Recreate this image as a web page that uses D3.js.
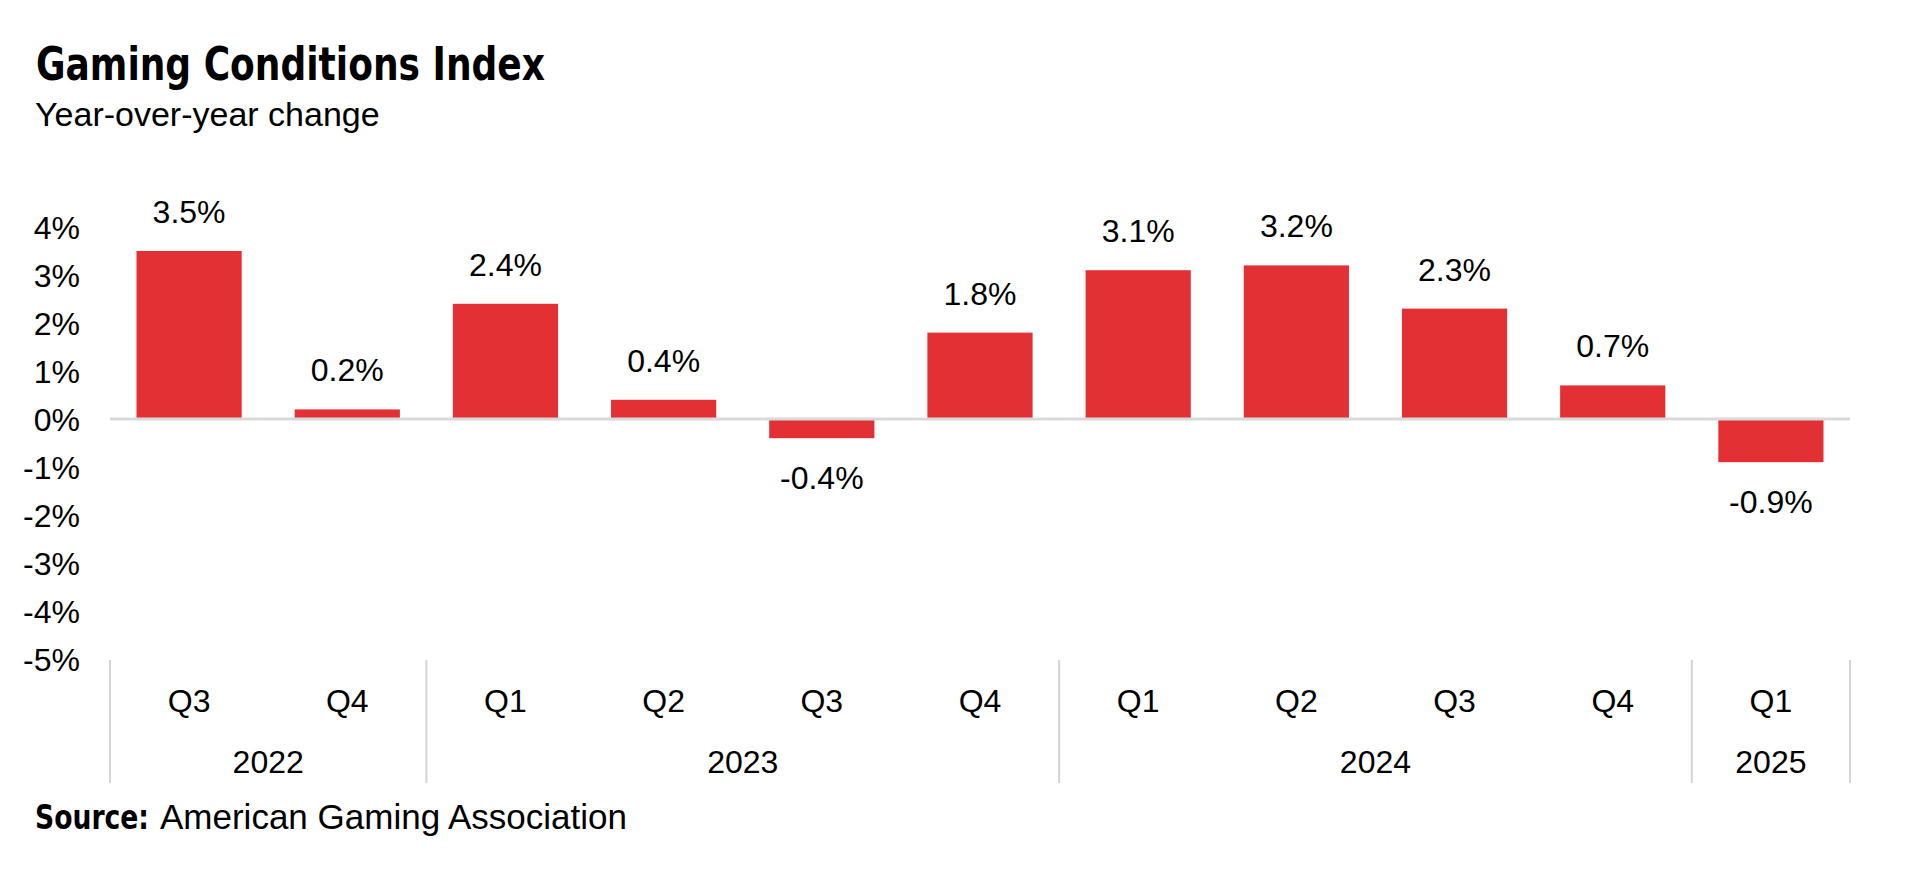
<!DOCTYPE html>
<html>
<head>
<meta charset="utf-8">
<script src="https://cdn.jsdelivr.net/npm/d3@7"></script>
<style>
  body { margin: 0; background: #fff; }
  text { font-family: "Liberation Sans", Arial, sans-serif; fill: #000; }
  .bold { font-family: "Liberation Sans Narrow", "DejaVu Sans Condensed", sans-serif; font-weight: bold; }
</style>
</head>
<body>
<svg id="chart"></svg>
<script>
// chart data
const quarters = ["Q3", "Q4", "Q1", "Q2", "Q3", "Q4", "Q1", "Q2", "Q3", "Q4", "Q1"];
const years = ["2022", "2022", "2023", "2023", "2023", "2023", "2024", "2024", "2024", "2024", "2025"];
const values = [3.5, 0.2, 2.4, 0.4, -0.4, 1.8, 3.1, 3.2, 2.3, 0.7, -0.9];
const yTicks = [4, 3, 2, 1, 0, -1, -2, -3, -4, -5];

const width = 1906, height = 870;
const margin = { left: 110, right: 56, top: 227, axisY: 660 };

const svg = d3.select("#chart").attr("width", width).attr("height", height);

// title and subtitle
svg.append("text")
    .attr("class", "bold")
    .attr("x", 36).attr("y", 80)
    .attr("textLength", 509)
    .attr("lengthAdjust", "spacingAndGlyphs")
    .style("font-size", "46px")
    .text("Gaming Conditions Index");
svg.append("text")
    .attr("x", 35).attr("y", 126)
    .style("font-size", "34px")
    .text("Year-over-year change");

const idx = values.map((d, i) => i);

// one slot per quarter, bars centered in their slot
const xSlot = d3.scaleBand()
    .domain(idx)
    .range([margin.left, width - margin.right]);
const x = d3.scaleBand()
    .domain(idx)
    .range([margin.left, width - margin.right])
    .paddingInner(0.335)
    .paddingOuter(0.1675);

const y = d3.scaleLinear()
    .domain([-5, 4])
    .range([margin.axisY - 1, margin.top]);

const fmt = d => d.toFixed(1) + "%";

// y axis labels only
const yAxis = svg.append("g")
    .attr("transform", `translate(80,0)`)
    .call(d3.axisLeft(y).tickValues(yTicks).tickSize(0).tickPadding(0).tickFormat(d => d + "%"));
yAxis.select(".domain").remove();
yAxis.selectAll("text")
    .attr("dy", "0.35em")
    .style("font-family", '"Liberation Sans", Arial, sans-serif')
    .style("font-size", "32px")
    .attr("fill", "#000");

// bars
svg.append("g")
    .selectAll("rect")
    .data(values)
    .join("rect")
    .attr("x", (d, i) => x(i))
    .attr("y", d => y(Math.max(0, d)))
    .attr("width", x.bandwidth())
    .attr("height", d => Math.abs(y(d) - y(0)))
    .attr("fill", "#e33035");

// zero line
svg.append("line")
    .attr("x1", margin.left).attr("x2", width - margin.right)
    .attr("y1", y(0)).attr("y2", y(0))
    .attr("stroke", "#d9d9d9")
    .attr("stroke-width", 3);

// value labels
svg.append("g")
    .selectAll("text")
    .data(values)
    .join("text")
    .attr("x", (d, i) => x(i) + x.bandwidth() / 2)
    .attr("y", d => d >= 0 ? y(d) - 28 : y(d) + 51)
    .attr("text-anchor", "middle")
    .style("font-size", "32px")
    .text(fmt);

// quarter labels
const xAxis = svg.append("g")
    .attr("transform", `translate(0,${margin.axisY})`)
    .call(d3.axisBottom(xSlot).tickSize(0).tickPadding(29).tickFormat(i => quarters[i]));
xAxis.select(".domain").remove();
xAxis.selectAll("text")
    .style("font-family", '"Liberation Sans", Arial, sans-serif')
    .style("font-size", "32px")
    .attr("fill", "#000");

// year groups
const groups = d3.groups(idx, i => years[i]).map(([year, list]) => ({
  year: year,
  x0: xSlot(list[0]),
  x1: xSlot(list[list.length - 1]) + xSlot.bandwidth()
}));

const bounds = [groups[0].x0].concat(groups.map(g => g.x1));
svg.append("g")
    .selectAll("line")
    .data(bounds)
    .join("line")
    .attr("x1", d => d).attr("x2", d => d)
    .attr("y1", margin.axisY).attr("y2", 783)
    .attr("stroke", "#d4d4d4")
    .attr("stroke-width", 2);

svg.append("g")
    .selectAll("text")
    .data(groups)
    .join("text")
    .attr("x", d => (d.x0 + d.x1) / 2)
    .attr("y", 773)
    .attr("text-anchor", "middle")
    .style("font-size", "32px")
    .text(d => d.year);

// source note
svg.append("text")
    .attr("class", "bold")
    .attr("x", 35).attr("y", 829)
    .attr("textLength", 114)
    .attr("lengthAdjust", "spacingAndGlyphs")
    .style("font-size", "34px")
    .text("Source:");
svg.append("text")
    .attr("x", 160).attr("y", 829)
    .style("font-size", "35px")
    .text("American Gaming Association");
</script>
</body>
</html>
